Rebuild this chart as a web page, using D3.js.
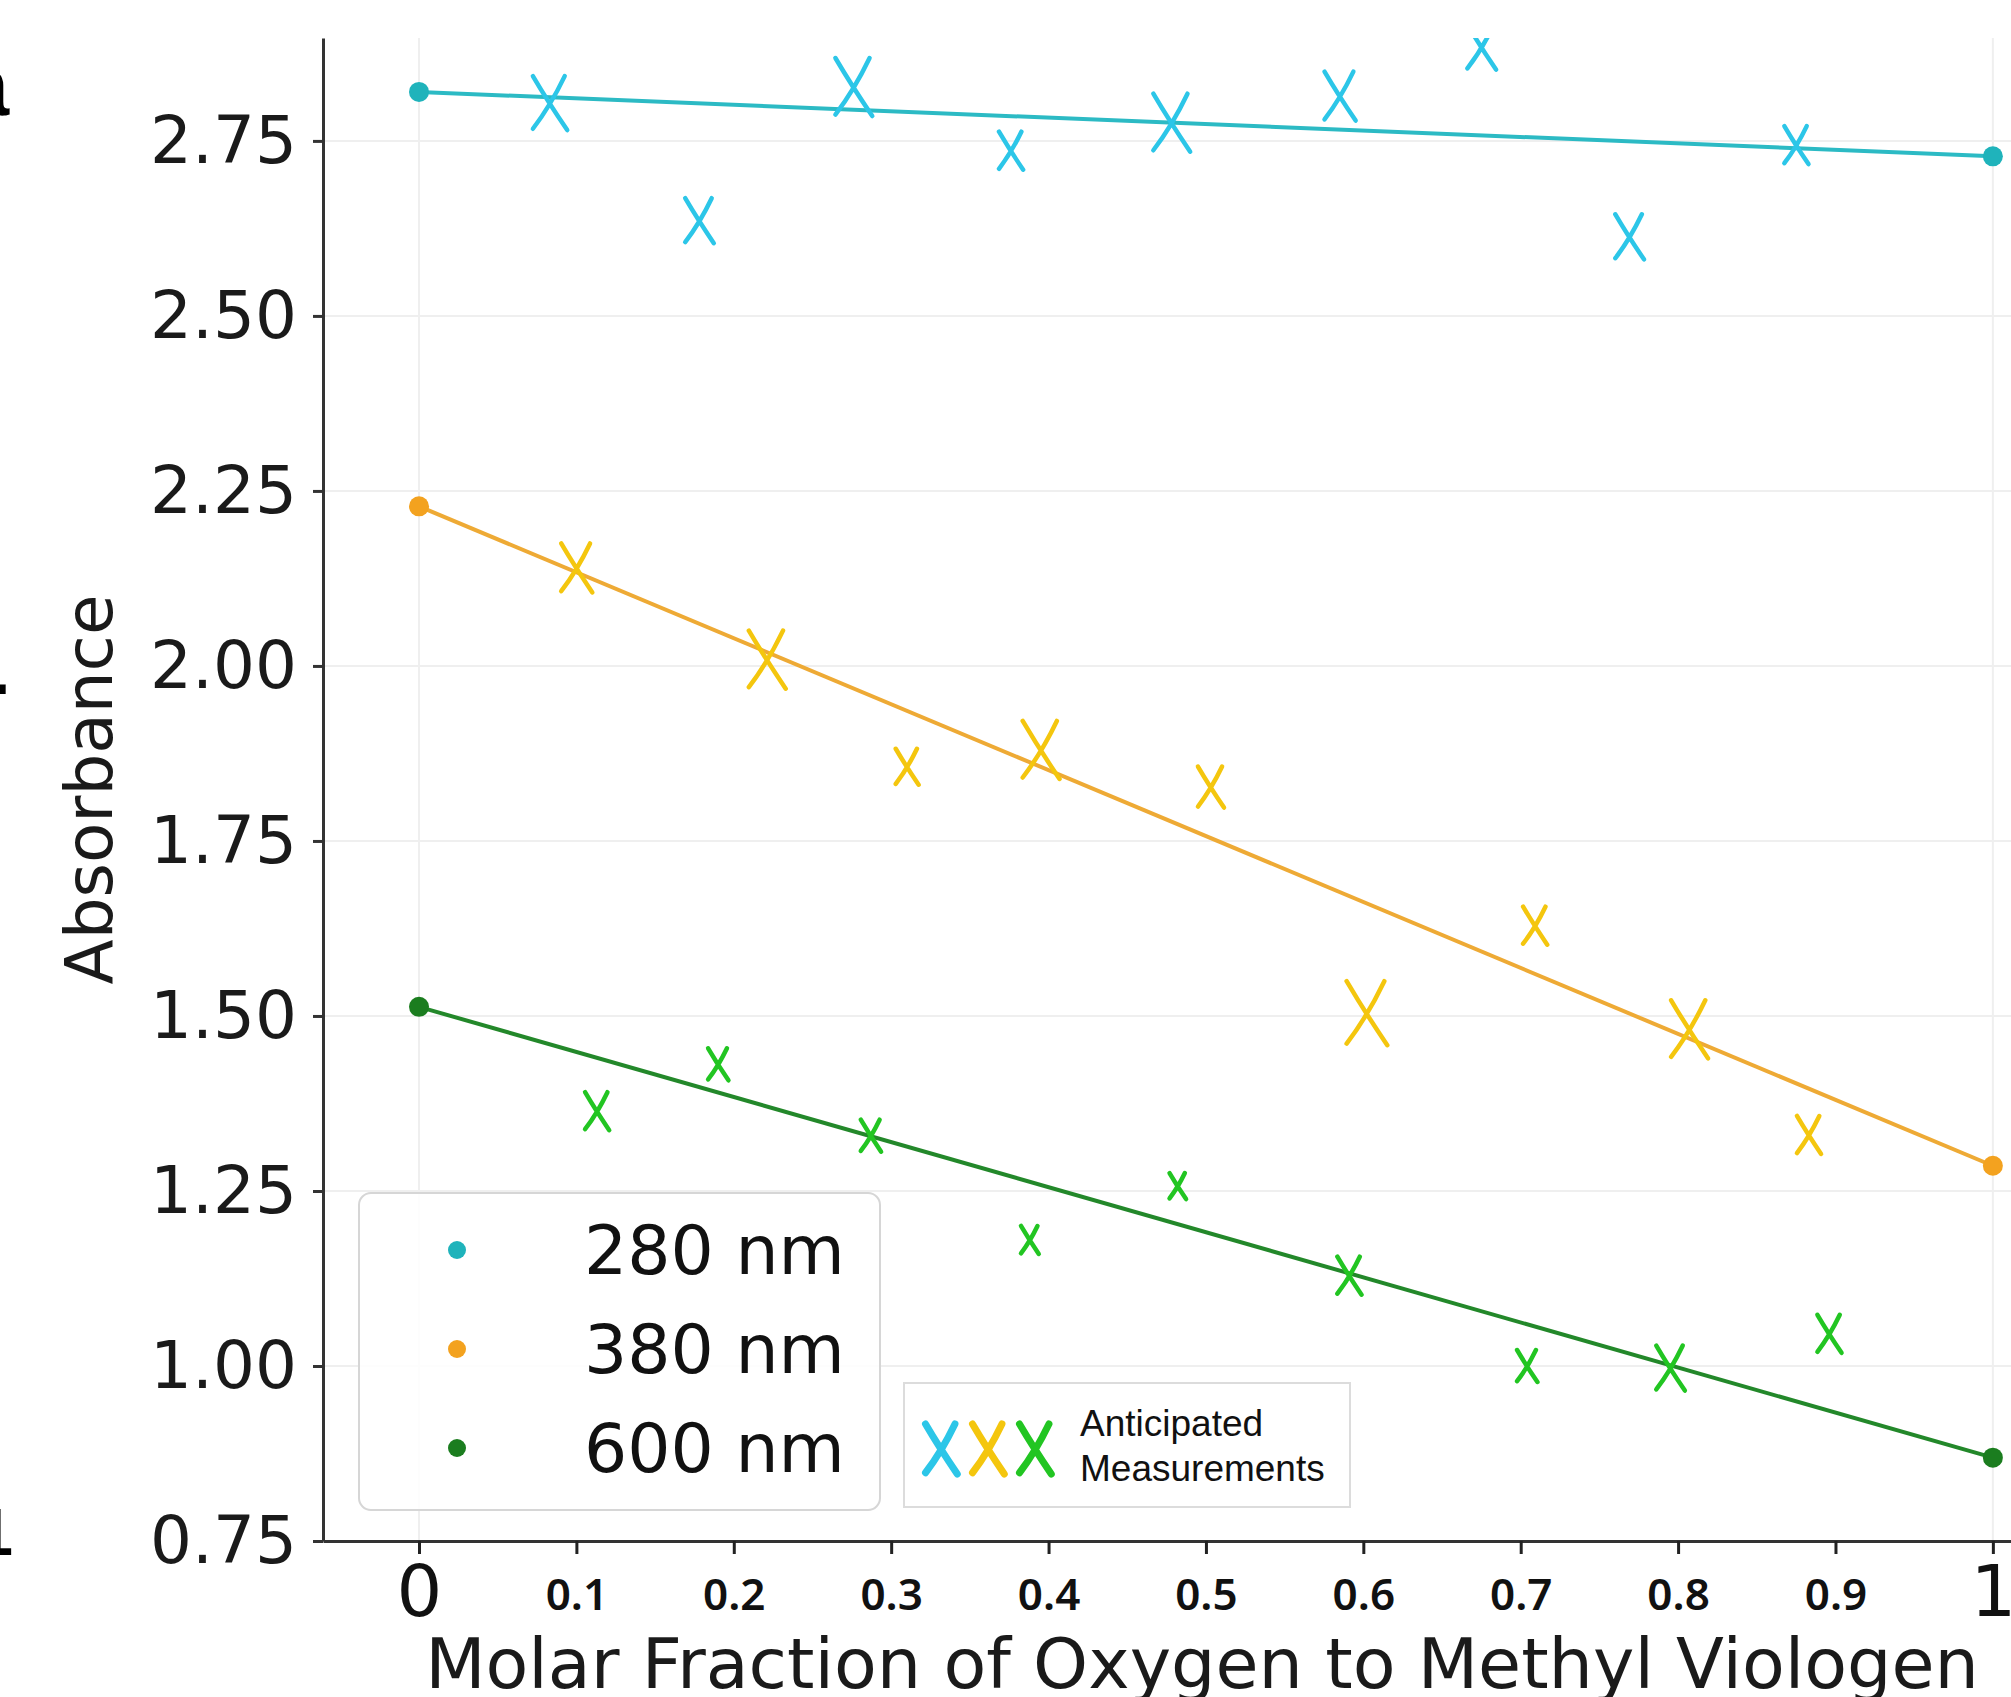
<!DOCTYPE html>
<html>
<head>
<meta charset="utf-8">
<script src="https://cdn.jsdelivr.net/npm/d3@7"></script>
<style>
  html, body { margin: 0; padding: 0; background: #fff; }
  svg { display: block; }
</style>
</head>
<body>
<div id="chart"></div>
<script>
'use strict';

// measured end points (x = 0 and x = 1)
var fitX = [0, 1];
var abs280 = [2.82, 2.728];
var abs380 = [2.228, 1.286];
var abs600 = [1.513, 0.869];

// hand-drawn "anticipated" crosses
var cross280X = [0.083, 0.178, 0.276, 0.376, 0.478, 0.585, 0.675, 0.769, 0.875];
var cross280Y = [2.804, 2.636, 2.827, 2.736, 2.776, 2.814, 2.884, 2.613, 2.744];
var cross380X = [0.100, 0.221, 0.310, 0.395, 0.503, 0.602, 0.709, 0.807, 0.883];
var cross380Y = [2.140, 2.009, 1.856, 1.880, 1.827, 1.504, 1.629, 1.481, 1.330];
var cross600X = [0.113, 0.190, 0.287, 0.388, 0.482, 0.591, 0.704, 0.795, 0.896];
var cross600Y = [1.364, 1.431, 1.329, 1.180, 1.257, 1.129, 1.000, 0.997, 1.046];

// cross heights in px (style only)
var crossSize280 = [54, 45, 58, 38, 58, 49, 45, 45, 38];
var crossSize380 = [49, 58, 36, 58, 41, 64, 38, 58, 38];
var crossSize600 = [38, 32, 32, 28, 26, 38, 32, 45, 38];

var seriesNames = ['280 nm', '380 nm', '600 nm'];
var xTicks = [0, 0.1, 0.2, 0.3, 0.4, 0.5, 0.6, 0.7, 0.8, 0.9, 1];
var yTicks = [0.75, 1.00, 1.25, 1.50, 1.75, 2.00, 2.25, 2.50, 2.75];
var gridX = [0, 1];

var dotColors = ['#1fb3bb', '#f3a21f', '#1b7d1f'];
var lineColors = ['#2cbac4', '#eeaa35', '#23882a'];
var crossColors = ['#2cc6e8', '#f4c60e', '#22c522'];

(function () {
  var W = 2011, H = 1697;
  var padL = 323, padT = 38, padR = 2081, padB = 1541;

  var svg = d3.select('#chart').append('svg')
    .attr('width', W)
    .attr('height', H)
    .attr('viewBox', [0, 0, W, H]);

  var x = d3.scaleLinear().domain([-0.061, 1.056]).range([padL, padR]);
  var y = d3.scaleLinear().domain([0.75, 2.897]).range([padB, padT]);

  svg.append('defs').append('clipPath').attr('id', 'plotclip')
    .append('rect')
    .attr('x', padL).attr('y', padT)
    .attr('width', W - padL).attr('height', padB - padT);

  // grid
  var grid = svg.append('g').attr('stroke', '#efefef').attr('stroke-width', 2);
  grid.selectAll('line.h').data(yTicks).join('line')
    .attr('class', 'h')
    .attr('x1', padL).attr('x2', W)
    .attr('y1', function (d) { return y(d); })
    .attr('y2', function (d) { return y(d); });
  grid.selectAll('line.v').data(gridX).join('line')
    .attr('class', 'v')
    .attr('y1', padT).attr('y2', padB)
    .attr('x1', function (d) { return x(d); })
    .attr('x2', function (d) { return x(d); });

  var plot = svg.append('g').attr('clip-path', 'url(#plotclip)');

  // fit lines + end points
  var measured = [abs280, abs380, abs600];
  var line = d3.line()
    .x(function (d) { return x(d.x); })
    .y(function (d) { return y(d.y); });

  measured.forEach(function (vals, i) {
    var pts = fitX.map(function (fx, j) { return { x: fx, y: vals[j] }; });
    plot.append('path')
      .datum(pts)
      .attr('d', line)
      .attr('fill', 'none')
      .attr('stroke', lineColors[i])
      .attr('stroke-width', 4);
    plot.append('g').selectAll('circle').data(pts).join('circle')
      .attr('cx', function (d) { return x(d.x); })
      .attr('cy', function (d) { return y(d.y); })
      .attr('r', 10)
      .attr('fill', dotColors[i]);
  });

  // crosses
  function crossPath(h) {
    var w = h * 0.62, a = h / 2, b = w / 2;
    return 'M' + (-b) + ',' + (-a) + 'Q' + (-b * 0.1) + ',' + (-a * 0.05) + ' ' + (b * 1.05) + ',' + a +
           'M' + (b * 0.9) + ',' + (-a) + 'Q' + (b * 0.05) + ',' + (a * 0.1) + ' ' + (-b) + ',' + (a * 0.95);
  }

  var crossSets = [
    { xs: cross280X, ys: cross280Y, sz: crossSize280 },
    { xs: cross380X, ys: cross380Y, sz: crossSize380 },
    { xs: cross600X, ys: cross600Y, sz: crossSize600 }
  ];

  crossSets.forEach(function (s, i) {
    var pts = s.xs.map(function (cx, j) { return { x: cx, y: s.ys[j], h: s.sz[j] }; });
    plot.append('g').selectAll('path').data(pts).join('path')
      .attr('transform', function (d) { return 'translate(' + x(d.x) + ',' + y(d.y) + ')'; })
      .attr('d', function (d) { return crossPath(d.h); })
      .attr('fill', 'none')
      .attr('stroke', crossColors[i])
      .attr('stroke-width', 4.5)
      .attr('stroke-linecap', 'round');
  });

  // axes
  var yAxis = svg.append('g')
    .attr('transform', 'translate(' + padL + ',0)')
    .call(d3.axisLeft(y).tickValues(yTicks).tickFormat(d3.format('.2f')).tickSize(10).tickPadding(16).tickSizeOuter(0));
  yAxis.select('.domain').attr('stroke', '#333').attr('stroke-width', 3);
  yAxis.selectAll('.tick line').attr('stroke', '#333').attr('stroke-width', 3);
  yAxis.selectAll('.tick text')
    .attr('font-family', '"DejaVu Sans", sans-serif')
    .attr('font-size', 66)
    .attr('fill', '#1a1a1a');

  var xAxis = svg.append('g')
    .attr('transform', 'translate(0,' + padB + ')')
    .call(d3.axisBottom(x).tickValues(xTicks)
      .tickFormat(function (d) { return d === 0 || d === 1 ? d3.format('d')(d) : d3.format('.1f')(d); })
      .tickSize(13).tickSizeOuter(0));
  xAxis.select('.domain').attr('stroke', '#333').attr('stroke-width', 3);
  xAxis.selectAll('.tick line').attr('stroke', '#222').attr('stroke-width', 3);
  xAxis.selectAll('.tick text')
    .attr('fill', '#111')
    .each(function (d) {
      var t = d3.select(this);
      if (d === 0 || d === 1) {
        t.attr('font-family', '"DejaVu Sans", sans-serif').attr('font-size', 72).attr('y', 24);
      } else {
        t.attr('font-family', '"Noto Sans", sans-serif').attr('font-weight', 600)
          .attr('font-size', 44).attr('y', 38);
      }
    });

  // axis labels
  svg.append('text')
    .attr('transform', 'translate(112,' + ((padT + padB) / 2) + ') rotate(-90)')
    .attr('text-anchor', 'middle')
    .attr('font-family', '"DejaVu Sans", sans-serif')
    .attr('font-size', 66)
    .attr('fill', '#1a1a1a')
    .text('Absorbance');

  svg.append('text')
    .attr('x', (padL + padR) / 2)
    .attr('y', 1688)
    .attr('text-anchor', 'middle')
    .attr('font-family', '"DejaVu Sans", sans-serif')
    .attr('font-size', 70)
    .attr('fill', '#1a1a1a')
    .text('Molar Fraction of Oxygen to Methyl Viologen');

  // legend: wavelengths
  var leg = svg.append('g').attr('transform', 'translate(359,1193)');
  leg.append('rect')
    .attr('width', 521).attr('height', 317)
    .attr('rx', 12).attr('ry', 12)
    .attr('fill', '#fff').attr('fill-opacity', 0.85)
    .attr('stroke', '#d6d6d6').attr('stroke-width', 2);
  var legRows = leg.selectAll('g.row').data(seriesNames).join('g')
    .attr('class', 'row')
    .attr('transform', function (d, i) { return 'translate(0,' + (57 + i * 99) + ')'; });
  legRows.append('circle')
    .attr('cx', 98).attr('r', 9)
    .attr('fill', function (d, i) { return dotColors[i]; });
  legRows.append('text')
    .attr('x', 225).attr('dy', '0.36em')
    .attr('font-family', '"DejaVu Sans", sans-serif')
    .attr('font-size', 68)
    .attr('fill', '#111')
    .text(function (d) { return d; });

  // legend: anticipated measurements
  var leg2 = svg.append('g').attr('transform', 'translate(904,1383)');
  leg2.append('rect')
    .attr('width', 446).attr('height', 124)
    .attr('fill', '#fff')
    .attr('stroke', '#dcdcdc').attr('stroke-width', 2);
  leg2.selectAll('path').data(crossColors).join('path')
    .attr('transform', function (d, i) { return 'translate(' + (37 + i * 47) + ',66)'; })
    .attr('d', crossPath(50))
    .attr('fill', 'none')
    .attr('stroke', function (d) { return d; })
    .attr('stroke-width', 7)
    .attr('stroke-linecap', 'round');
  leg2.append('text')
    .attr('x', 176).attr('y', 53)
    .attr('font-family', '"Liberation Sans", Arial, sans-serif')
    .attr('font-size', 37)
    .attr('fill', '#111')
    .text('Anticipated');
  leg2.append('text')
    .attr('x', 176).attr('y', 98)
    .attr('font-family', '"Liberation Sans", Arial, sans-serif')
    .attr('font-size', 37)
    .attr('fill', '#111')
    .text('Measurements');

  // cut-off letters of the neighbouring panel on the left edge
  var edge = svg.append('g')
    .attr('font-family', '"Liberation Sans", Arial, sans-serif')
    .attr('font-weight', 'bold')
    .attr('text-anchor', 'end')
    .attr('fill', '#000');
  edge.append('text').attr('x', 9).attr('y', 115).attr('font-size', 86).text('a');
  edge.append('text').attr('x', 9).attr('y', 710).attr('font-size', 80).text('-');
  edge.append('text').attr('x', 13).attr('y', 1555).attr('font-size', 67).text('1');
})();
</script>
</body>
</html>
